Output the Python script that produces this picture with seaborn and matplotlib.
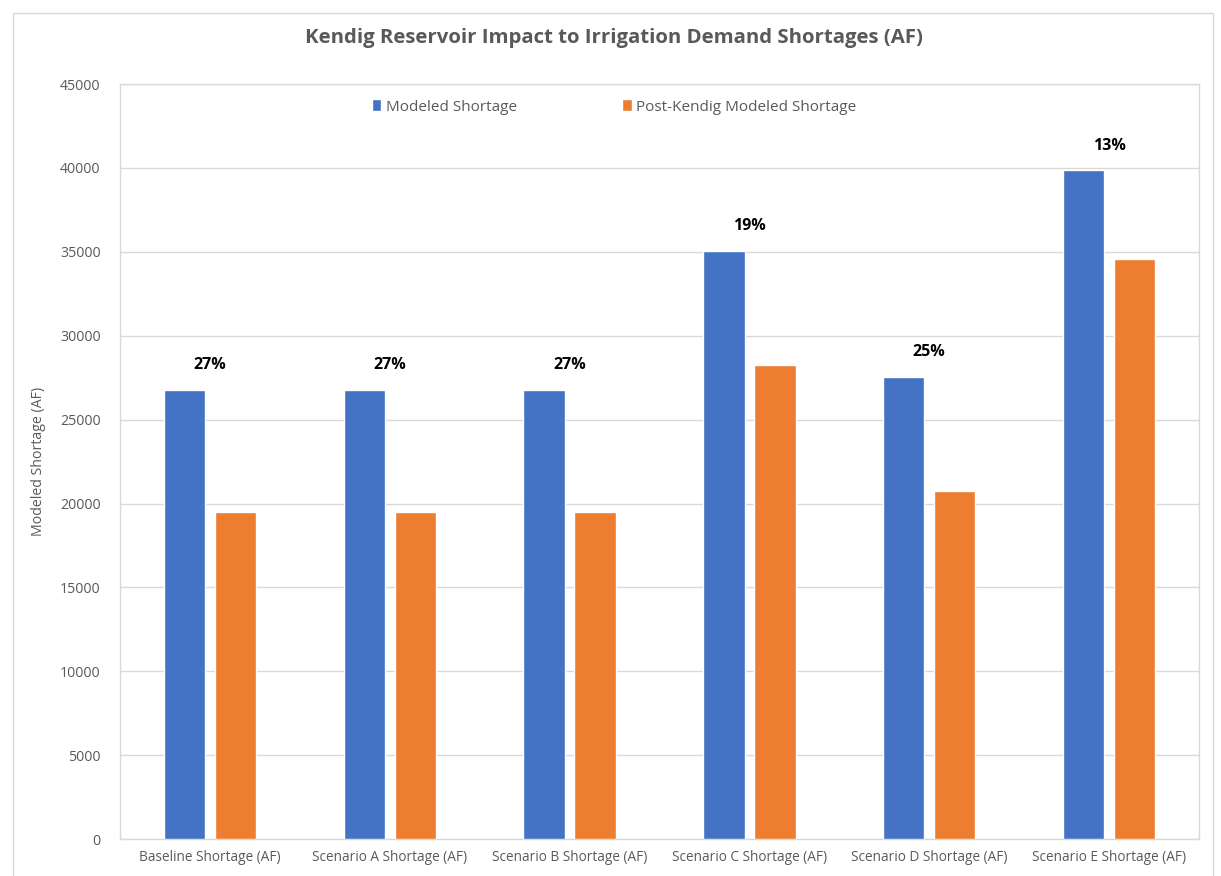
import matplotlib
matplotlib.use("Agg")
import matplotlib.pyplot as plt
import seaborn as sns
import pandas as pd
from matplotlib.patches import Rectangle

# data
categories = ["Baseline Shortage (AF)", "Scenario A Shortage (AF)", "Scenario B Shortage (AF)",
              "Scenario C Shortage (AF)", "Scenario D Shortage (AF)", "Scenario E Shortage (AF)"]
modeled = [26780, 26780, 26780, 35070, 27540, 39860]
post_kendig = [19520, 19520, 19520, 28270, 20760, 34600]
pct_labels = ["27%", "27%", "27%", "19%", "25%", "13%"]
series = ["Modeled Shortage", "Post-Kendig Modeled Shortage"]
yticks = list(range(0, 45001, 5000))

df = pd.DataFrame({
    "category": categories * 2,
    "series": [series[0]] * len(categories) + [series[1]] * len(categories),
    "value": modeled + post_kendig,
})

sns.set_style("white")
plt.rcParams["font.family"] = ["Open Sans", "DejaVu Sans"]

grey = "#595959"
fig = plt.figure(figsize=(12.21, 8.76), dpi=100)
ax = fig.add_axes([0.0983, 0.0422, 0.8837, 0.8618])

sns.barplot(data=df, x="category", y="value", hue="series", order=categories,
            hue_order=series, palette=["#4472C4", "#ED7D31"], width=0.567, gap=0.19,
            saturation=1, ax=ax, zorder=3)

for i, lab in enumerate(pct_labels):
    ax.annotate(lab, (i, modeled[i]), xytext=(0, 12), textcoords="offset points",
                ha="center", va="bottom", fontsize=11.5, fontweight="bold", color="black")

ax.set_ylim(0, 45000)
ax.set_yticks(yticks)
ax.set_yticklabels([str(t) for t in yticks])
ax.yaxis.grid(True, color="#d9d9d9", linewidth=1, zorder=0)
ax.set_axisbelow(True)
ax.tick_params(axis="x", length=0, labelsize=9.8, colors=grey, pad=8)
ax.tick_params(axis="y", length=0, labelsize=10.2, colors=grey, pad=14)
for s in ["left", "top", "right", "bottom"]:
    ax.spines[s].set_color("#d9d9d9")
    ax.spines[s].set_linewidth(1)
ax.set_xlabel("")
ax.set_ylabel("Modeled Shortage (AF)", fontsize=10.2, color=grey, labelpad=10)

leg = ax.legend(loc="upper center", bbox_to_anchor=(0.458, 0.998), ncol=2, frameon=False,
                fontsize=11, columnspacing=6.9, handlelength=0.6, handleheight=0.8,
                handletextpad=0.3)
for t in leg.get_texts():
    t.set_color(grey)

fig.text(0.503, 0.957, "Kendig Reservoir Impact to Irrigation Demand Shortages (AF)",
         ha="center", va="center", fontsize=14.7, fontweight="bold", color=grey)

fig.patches.append(Rectangle((13 / 1221, -0.01), 1200 / 1221, 0.9953, transform=fig.transFigure,
                             fill=False, edgecolor="#d9d9d9", linewidth=1))

fig.savefig("out.png", dpi=100)
